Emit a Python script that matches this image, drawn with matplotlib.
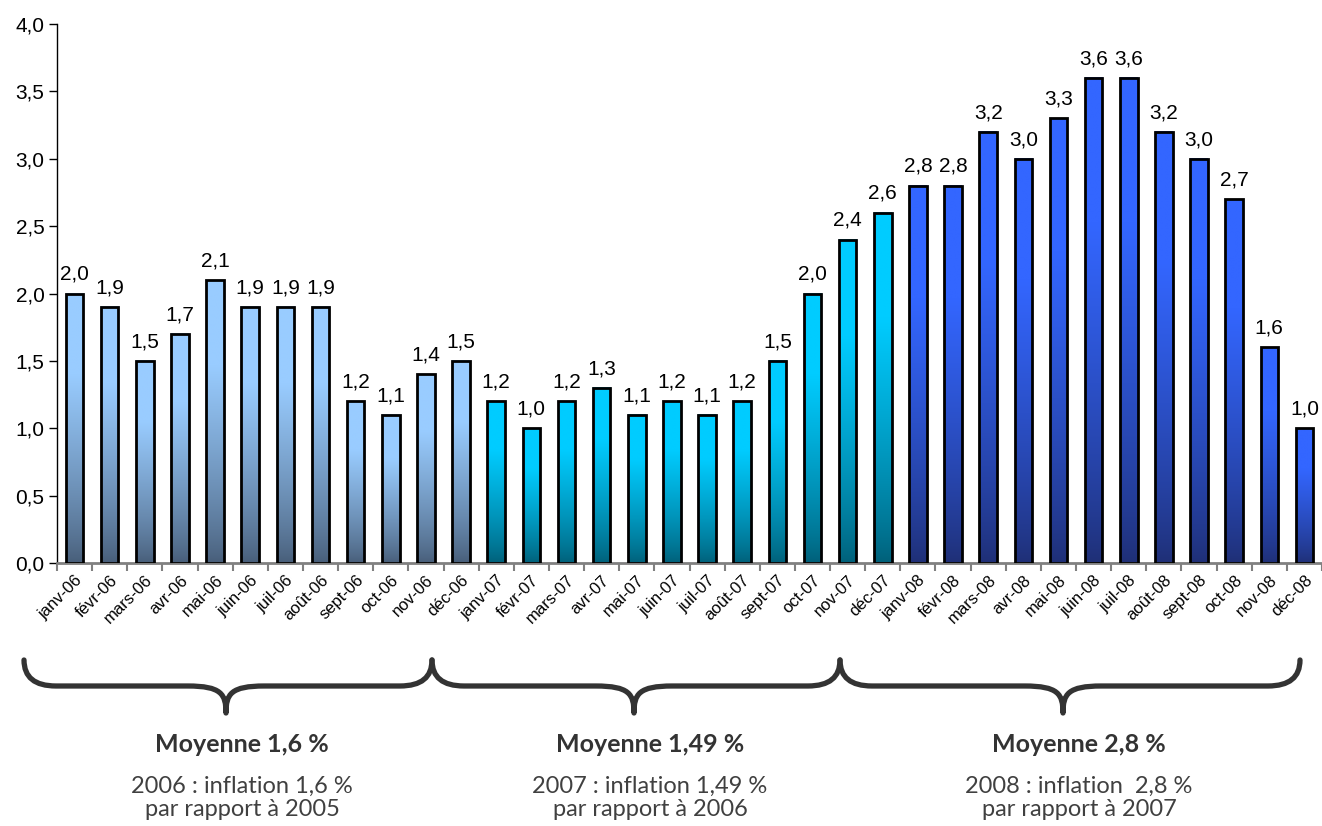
import matplotlib.pyplot as plt
import numpy as np
from matplotlib.colors import to_rgb
from matplotlib.path import Path
from matplotlib.patches import PathPatch

months = ['janv', 'févr', 'mars', 'avr', 'mai', 'juin', 'juil', 'août',
          'sept', 'oct', 'nov', 'déc']
years = ['06', '07', '08']
labels = [m + '-' + y for y in years for m in months]

infl_2006 = [2.0, 1.9, 1.5, 1.7, 2.1, 1.9, 1.9, 1.9, 1.2, 1.1, 1.4, 1.5]
infl_2007 = [1.2, 1.0, 1.2, 1.3, 1.1, 1.2, 1.1, 1.2, 1.5, 2.0, 2.4, 2.6]
infl_2008 = [2.8, 2.8, 3.2, 3.0, 3.3, 3.6, 3.6, 3.2, 3.0, 2.7, 1.6, 1.0]

# top / bottom colours of the gradient for each year
grad_colors = [('#99ccff', '#475d78'),
               ('#00ccff', '#005f78'),
               ('#3366ff', '#1f2f75')]

moyennes = ['Moyenne 1,6 %', 'Moyenne 1,49 %', 'Moyenne 2,8 %']
notes = ['2006 : inflation 1,6 %\npar rapport à 2005',
         '2007 : inflation 1,49 %\npar rapport à 2006',
         '2008 : inflation  2,8 %\npar rapport à 2007']

values = infl_2006 + infl_2007 + infl_2008
W, H = 1322, 826
fig = plt.figure(figsize=(W / 100, H / 100), dpi=100)
ax = fig.add_axes([57 / W, 1 - 563 / H, 1 - 57 / W, (563 - 24) / H])

x = np.arange(len(values))
bw = 0.5


def gradient(top, bottom, n=256):
    t = np.linspace(1, 0, n)[:, None]          # row 0 = top of bar
    f = np.clip(t / 0.7, 0, 1) ** 0.8
    top, bottom = np.array(to_rgb(top)), np.array(to_rgb(bottom))
    img = bottom + (top - bottom) * f
    return img[:, None, :]


for i, v in enumerate(values):
    top, bottom = grad_colors[i // 12]
    ax.imshow(gradient(top, bottom), extent=[i - bw / 2, i + bw / 2, 0, v],
              aspect='auto', interpolation='bilinear', zorder=2)
ax.bar(x, values, width=bw, facecolor='none', edgecolor='black',
       linewidth=2, zorder=3)

for i, v in enumerate(values):
    ax.annotate(f'{v:.1f}'.replace('.', ','), (i, v), xytext=(0, 7),
                textcoords='offset points', ha='center', va='bottom',
                fontsize=15, family='Liberation Sans')

ax.set_xlim(-0.5, len(values) - 0.5)
ax.set_ylim(0, 4.0)
ax.set_yticks(np.arange(0, 4.01, 0.5))
ax.set_yticklabels([f'{t:.1f}'.replace('.', ',') for t in np.arange(0, 4.01, 0.5)],
                   fontsize=15, family='Liberation Sans')
ax.set_xticks(x)
ax.set_xticklabels(labels, rotation=45, ha='right', va='top',
                   rotation_mode='anchor', fontsize=12, family='Liberation Sans')
ax.set_xticks(np.arange(-0.5, len(values)), minor=True)
ax.tick_params(axis='x', which='major', length=0, pad=7)
ax.tick_params(axis='x', which='minor', length=6, color='#808080', width=1.5)
ax.tick_params(axis='y', length=6, width=1, pad=3)
for s in ['top', 'right']:
    ax.spines[s].set_visible(False)
ax.spines['bottom'].set_color('#808080')
ax.spines['bottom'].set_linewidth(2)
ax.spines['left'].set_linewidth(1)

# overlay in pixel coordinates for the braces and notes
ov = fig.add_axes([0, 0, 1, 1], zorder=5)
ov.set_xlim(0, W)
ov.set_ylim(H, 0)
ov.axis('off')
ov.patch.set_alpha(0)


def brace(x0, x1, xc, y_top=660, y_mid=686, y_tip=713, r=32):
    verts = [(x0, y_top), (x0, y_mid), (x0 + r, y_mid),
             (xc - r * 1.2, y_mid),
             (xc - r * 0.15, y_mid), (xc, y_mid + 8), (xc, y_tip),
             (xc, y_mid + 8), (xc + r * 0.15, y_mid), (xc + r * 1.2, y_mid),
             (x1 - r, y_mid),
             (x1, y_mid), (x1, y_top)]
    codes = [Path.MOVETO, Path.CURVE3, Path.CURVE3,
             Path.LINETO,
             Path.CURVE4, Path.CURVE4, Path.CURVE4,
             Path.CURVE4, Path.CURVE4, Path.CURVE4,
             Path.LINETO,
             Path.CURVE3, Path.CURVE3]
    ov.add_patch(PathPatch(Path(verts, codes), facecolor='none',
                           edgecolor='#333333', linewidth=3.8,
                           capstyle='round', joinstyle='round'))


spans = [(24, 432, 226), (432, 840, 634), (840, 1300, 1063)]
for (x0, x1, xc), moy, note in zip(spans, moyennes, notes):
    brace(x0, x1, xc)
    ov.text(xc + 16, 745, moy, ha='center', va='center', fontsize=18,
            fontweight='bold', family='Lato', color='#333333')
    ov.text(xc + 16, 798, note, ha='center', va='center', fontsize=17,
            fontweight='normal', family='Lato', color='#404040',
            linespacing=1.15)

fig.savefig('out.png', dpi=100)
